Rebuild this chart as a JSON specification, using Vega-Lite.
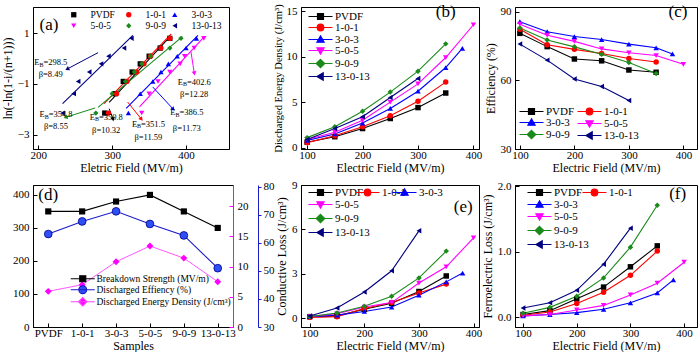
{
"$schema": "https://vega.github.io/schema/vega-lite/v6.json",
"padding": {"left": 0, "top": 2, "right": 0, "bottom": 0},
"columns": 3,
"spacing": {"row": 4, "column": -3},
"datasets": {
"weibull": [
{"s":"PVDF","E":290,"y":-2.14},{"s":"PVDF","E":304,"y":-1.38},{"s":"PVDF","E":315,"y":-0.9},{"s":"PVDF","E":327,"y":-0.53},{"s":"PVDF","E":338,"y":-0.21},{"s":"PVDF","E":350,"y":0.09},{"s":"PVDF","E":365,"y":0.41},{"s":"PVDF","E":378,"y":0.79},
{"s":"1-0-1","E":295,"y":-2.14},{"s":"1-0-1","E":306,"y":-1.38},{"s":"1-0-1","E":320,"y":-0.9},{"s":"1-0-1","E":333,"y":-0.53},{"s":"1-0-1","E":343,"y":-0.21},{"s":"1-0-1","E":352,"y":0.09},{"s":"1-0-1","E":366,"y":0.41},{"s":"1-0-1","E":378,"y":0.79},
{"s":"3-0-3","E":322,"y":-2.14},{"s":"3-0-3","E":338,"y":-1.38},{"s":"3-0-3","E":355,"y":-0.9},{"s":"3-0-3","E":366,"y":-0.53},{"s":"3-0-3","E":376,"y":-0.21},{"s":"3-0-3","E":388,"y":0.09},{"s":"3-0-3","E":400,"y":0.41},{"s":"3-0-3","E":414,"y":0.79},
{"s":"5-0-5","E":340,"y":-2.14},{"s":"5-0-5","E":350,"y":-1.38},{"s":"5-0-5","E":362,"y":-0.9},{"s":"5-0-5","E":378,"y":-0.53},{"s":"5-0-5","E":392,"y":-0.21},{"s":"5-0-5","E":398,"y":0.09},{"s":"5-0-5","E":411,"y":0.41},{"s":"5-0-5","E":424,"y":0.79},
{"s":"9-0-9","E":278,"y":-2.14},{"s":"9-0-9","E":300,"y":-1.38},{"s":"9-0-9","E":318,"y":-0.9},{"s":"9-0-9","E":330,"y":-0.53},{"s":"9-0-9","E":340,"y":-0.21},{"s":"9-0-9","E":352,"y":0.09},{"s":"9-0-9","E":378,"y":0.41},{"s":"9-0-9","E":393,"y":0.79},
{"s":"13-0-13","E":233,"y":-2.14},{"s":"13-0-13","E":248,"y":-1.38},{"s":"13-0-13","E":254,"y":-0.9},{"s":"13-0-13","E":269,"y":-0.53},{"s":"13-0-13","E":285,"y":-0.21},{"s":"13-0-13","E":295,"y":0.09},{"s":"13-0-13","E":316,"y":0.41},{"s":"13-0-13","E":326,"y":0.79}
],
"fits": [
{"s":"PVDF","x1":296,"y1":-1.72,"x2":378,"y2":0.85},
{"s":"1-0-1","x1":289,"y1":-1.77,"x2":380,"y2":0.97},
{"s":"9-0-9","x1":281,"y1":-1.92,"x2":395,"y2":0.86},
{"s":"3-0-3","x1":319,"y1":-1.96,"x2":416,"y2":0.91},
{"s":"5-0-5","x1":337,"y1":-1.9,"x2":425,"y2":0.87},
{"s":"13-0-13","x1":233,"y1":-1.77,"x2":328,"y2":0.91}
],
"arrows": [
{"s":"13-0-13","x1":281,"y1":0.23,"x2":240,"y2":-0.4},
{"s":"9-0-9","x1":277,"y1":-1.94,"x2":238,"y2":-2.3},
{"s":"PVDF","x1":296,"y1":-1.97,"x2":301,"y2":-2.36},
{"s":"1-0-1","x1":321,"y1":-1.71,"x2":339,"y2":-2.36},
{"s":"3-0-3","x1":355,"y1":-1.12,"x2":382,"y2":-1.97},
{"s":"5-0-5","x1":406.6,"y1":0.26,"x2":411,"y2":-0.56}
],
"notes": [
{"s":"13-0-13","x":217,"y":-0.14,"yb":-0.6,"eb":"=298.5","beta":"β=8.49"},
{"s":"9-0-9","x":224,"y":-2.19,"yb":-2.66,"eb":"=354.8","beta":"β=8.55"},
{"s":"PVDF","x":292,"y":-2.29,"yb":-2.82,"eb":"=350.8","beta":"β=10.32"},
{"s":"1-0-1","x":349,"y":-2.56,"yb":-3.08,"eb":"=351.5","beta":"β=11.59"},
{"s":"3-0-3","x":401,"y":-2.1,"yb":-2.71,"eb":"=386.5","beta":"β=11.73"},
{"s":"5-0-5","x":411,"y":-0.92,"yb":-1.38,"eb":"=402.6","beta":"β=12.28"}
],
"b": [
{"s":"PVDF","E":100,"v":0.6},{"s":"PVDF","E":150,"v":1.2},{"s":"PVDF","E":200,"v":2.1},{"s":"PVDF","E":250,"v":3.2},{"s":"PVDF","E":300,"v":4.4},{"s":"PVDF","E":350,"v":6.0},
{"s":"1-0-1","E":100,"v":0.55},{"s":"1-0-1","E":150,"v":1.3},{"s":"1-0-1","E":200,"v":2.3},{"s":"1-0-1","E":250,"v":3.5},{"s":"1-0-1","E":300,"v":5.1},{"s":"1-0-1","E":350,"v":7.2},
{"s":"3-0-3","E":100,"v":0.8},{"s":"3-0-3","E":150,"v":1.5},{"s":"3-0-3","E":200,"v":2.7},{"s":"3-0-3","E":250,"v":4.3},{"s":"3-0-3","E":300,"v":6.2},{"s":"3-0-3","E":350,"v":8.8},{"s":"3-0-3","E":380,"v":10.9},
{"s":"5-0-5","E":100,"v":0.9},{"s":"5-0-5","E":150,"v":1.7},{"s":"5-0-5","E":200,"v":3.0},{"s":"5-0-5","E":250,"v":5.0},{"s":"5-0-5","E":300,"v":7.0},{"s":"5-0-5","E":350,"v":9.9},{"s":"5-0-5","E":400,"v":13.5},
{"s":"9-0-9","E":100,"v":1.1},{"s":"9-0-9","E":150,"v":2.3},{"s":"9-0-9","E":200,"v":4.0},{"s":"9-0-9","E":250,"v":6.1},{"s":"9-0-9","E":300,"v":8.4},{"s":"9-0-9","E":350,"v":11.4},
{"s":"13-0-13","E":100,"v":0.9},{"s":"13-0-13","E":150,"v":2.1},{"s":"13-0-13","E":200,"v":3.4},{"s":"13-0-13","E":250,"v":5.5},{"s":"13-0-13","E":300,"v":7.6}
],
"c": [
{"s":"PVDF","E":100,"v":80.5},{"s":"PVDF","E":150,"v":74.7},{"s":"PVDF","E":200,"v":69.3},{"s":"PVDF","E":250,"v":68.5},{"s":"PVDF","E":300,"v":64.5},{"s":"PVDF","E":350,"v":63.5},
{"s":"1-0-1","E":100,"v":82.3},{"s":"1-0-1","E":150,"v":75.5},{"s":"1-0-1","E":200,"v":73.5},{"s":"1-0-1","E":250,"v":71.7},{"s":"1-0-1","E":300,"v":69.5},{"s":"1-0-1","E":350,"v":68},
{"s":"3-0-3","E":100,"v":85.6},{"s":"3-0-3","E":150,"v":81.2},{"s":"3-0-3","E":200,"v":79.1},{"s":"3-0-3","E":250,"v":77.8},{"s":"3-0-3","E":300,"v":75.8},{"s":"3-0-3","E":350,"v":74.2},{"s":"3-0-3","E":380,"v":71.5},
{"s":"5-0-5","E":100,"v":84.5},{"s":"5-0-5","E":150,"v":79.7},{"s":"5-0-5","E":200,"v":77},{"s":"5-0-5","E":250,"v":73.7},{"s":"5-0-5","E":300,"v":72},{"s":"5-0-5","E":350,"v":70.8},{"s":"5-0-5","E":400,"v":67},
{"s":"9-0-9","E":100,"v":82.8},{"s":"9-0-9","E":150,"v":77.6},{"s":"9-0-9","E":200,"v":74.6},{"s":"9-0-9","E":250,"v":71.4},{"s":"9-0-9","E":300,"v":67.8},{"s":"9-0-9","E":350,"v":63},
{"s":"13-0-13","E":100,"v":75.8},{"s":"13-0-13","E":150,"v":68.8},{"s":"13-0-13","E":200,"v":60.6},{"s":"13-0-13","E":250,"v":57.3},{"s":"13-0-13","E":300,"v":51.2}
],
"e": [
{"s":"PVDF","E":100,"v":0.1},{"s":"PVDF","E":150,"v":0.15},{"s":"PVDF","E":200,"v":0.6},{"s":"PVDF","E":250,"v":1.0},{"s":"PVDF","E":300,"v":1.8},{"s":"PVDF","E":350,"v":2.85},
{"s":"1-0-1","E":100,"v":0.05},{"s":"1-0-1","E":150,"v":0.1},{"s":"1-0-1","E":200,"v":0.65},{"s":"1-0-1","E":250,"v":1.05},{"s":"1-0-1","E":300,"v":1.7},{"s":"1-0-1","E":350,"v":2.3},
{"s":"3-0-3","E":100,"v":0.1},{"s":"3-0-3","E":150,"v":0.2},{"s":"3-0-3","E":200,"v":0.45},{"s":"3-0-3","E":250,"v":0.75},{"s":"3-0-3","E":300,"v":1.55},{"s":"3-0-3","E":350,"v":2.45},{"s":"3-0-3","E":380,"v":3.05},
{"s":"5-0-5","E":100,"v":0.1},{"s":"5-0-5","E":150,"v":0.3},{"s":"5-0-5","E":200,"v":0.75},{"s":"5-0-5","E":250,"v":1.05},{"s":"5-0-5","E":300,"v":2.37},{"s":"5-0-5","E":350,"v":3.47},{"s":"5-0-5","E":400,"v":5.42},
{"s":"9-0-9","E":100,"v":0.1},{"s":"9-0-9","E":150,"v":0.35},{"s":"9-0-9","E":200,"v":0.8},{"s":"9-0-9","E":250,"v":1.48},{"s":"9-0-9","E":300,"v":2.72},{"s":"9-0-9","E":350,"v":4.53},
{"s":"13-0-13","E":100,"v":0.15},{"s":"13-0-13","E":150,"v":0.68},{"s":"13-0-13","E":200,"v":1.77},{"s":"13-0-13","E":250,"v":3.2},{"s":"13-0-13","E":300,"v":5.9}
],
"f": [
{"s":"PVDF","E":100,"v":0.04},{"s":"PVDF","E":150,"v":0.1},{"s":"PVDF","E":200,"v":0.28},{"s":"PVDF","E":250,"v":0.46},{"s":"PVDF","E":300,"v":0.77},{"s":"PVDF","E":350,"v":1.09},
{"s":"1-0-1","E":100,"v":0.03},{"s":"1-0-1","E":150,"v":0.08},{"s":"1-0-1","E":200,"v":0.21},{"s":"1-0-1","E":250,"v":0.38},{"s":"1-0-1","E":300,"v":0.64},{"s":"1-0-1","E":350,"v":1.01},
{"s":"3-0-3","E":100,"v":0.02},{"s":"3-0-3","E":150,"v":0.04},{"s":"3-0-3","E":200,"v":0.07},{"s":"3-0-3","E":250,"v":0.12},{"s":"3-0-3","E":300,"v":0.22},{"s":"3-0-3","E":350,"v":0.37},{"s":"3-0-3","E":380,"v":0.57},
{"s":"5-0-5","E":100,"v":0.02},{"s":"5-0-5","E":150,"v":0.04},{"s":"5-0-5","E":200,"v":0.11},{"s":"5-0-5","E":250,"v":0.18},{"s":"5-0-5","E":300,"v":0.34},{"s":"5-0-5","E":350,"v":0.52},{"s":"5-0-5","E":400,"v":0.84},
{"s":"9-0-9","E":100,"v":0.06},{"s":"9-0-9","E":150,"v":0.15},{"s":"9-0-9","E":200,"v":0.32},{"s":"9-0-9","E":250,"v":0.6},{"s":"9-0-9","E":300,"v":1.07},{"s":"9-0-9","E":350,"v":1.71},
{"s":"13-0-13","E":100,"v":0.14},{"s":"13-0-13","E":150,"v":0.22},{"s":"13-0-13","E":200,"v":0.41},{"s":"13-0-13","E":250,"v":0.81},{"s":"13-0-13","E":300,"v":1.36}
],
"d": [
{"sample":"PVDF","i":1,"bd":350,"eff":63.2,"ed":5.9},
{"sample":"1-0-1","i":2,"bd":350,"eff":67.7,"ed":7.0},
{"sample":"3-0-3","i":3,"bd":380,"eff":71.3,"ed":10.8},
{"sample":"5-0-5","i":4,"bd":400,"eff":66.8,"ed":13.4},
{"sample":"9-0-9","i":5,"bd":350,"eff":62.7,"ed":11.4},
{"sample":"13-0-13","i":6,"bd":300,"eff":51.0,"ed":7.5}
]
},
"concat": [
{
"width": 196, "height": 142,
"layer": [
{"data": {"name": "fits"}, "mark": {"type": "rule", "strokeWidth": 1.1},
 "encoding": {
  "x": {"field": "x1", "type": "quantitative", "scale": {"domain": [193, 458], "nice": false, "zero": false}, "axis": {"values": [200,250,300,350,400,450], "title": "Eletric Field (MV/m)"}},
  "y": {"field": "y1", "type": "quantitative", "scale": {"domain": [-3.55, 2.02], "nice": false, "zero": false}, "axis": {"values": [-3,-2,-1,0,1], "title": "ln(-ln(1-i/(n+1)))", "labelOverlap": false, "labelSeparation": 0, "labelBound": false}},
  "x2": {"field": "x2"}, "y2": {"field": "y2"},
  "color": {"field": "s", "type": "nominal", "scale": {"domain": ["PVDF","1-0-1","3-0-3","5-0-5","9-0-9","13-0-13"], "range": ["#000000","#ff0000","#0000ff","#ff00ff","#1a8a1a","#000080"]}, "legend": null}
 }},
{"data": {"name": "arrows"}, "mark": {"type": "rule", "strokeWidth": 1},
 "encoding": {
  "x": {"field": "x1", "type": "quantitative"}, "y": {"field": "y1", "type": "quantitative"},
  "x2": {"field": "x2"}, "y2": {"field": "y2"},
  "color": {"field": "s", "type": "nominal", "scale": {"domain": ["PVDF","1-0-1","3-0-3","5-0-5","9-0-9","13-0-13"], "range": ["#000000","#ff0000","#0000ff","#ff00ff","#1a8a1a","#000080"]}, "legend": null}
 }},
{"data": {"name": "arrows"}, "mark": {"type": "point", "filled": true, "opacity": 1, "shape": "triangle", "size": 22},
 "encoding": {
  "x": {"field": "x2", "type": "quantitative"}, "y": {"field": "y2", "type": "quantitative"},
  "color": {"field": "s", "type": "nominal", "scale": {"domain": ["PVDF","1-0-1","3-0-3","5-0-5","9-0-9","13-0-13"], "range": ["#000000","#ff0000","#0000ff","#ff00ff","#1a8a1a","#000080"]}, "legend": null},
  "angle": {"field": "s", "type": "nominal", "scale": {"type": "ordinal", "domain": ["PVDF","1-0-1","3-0-3","5-0-5","9-0-9","13-0-13"], "range": [168,141,137,171,253,242]}, "legend": null}
 }},
{"data": {"name": "weibull"}, "mark": {"type": "point", "filled": true, "opacity": 1, "size": 28},
 "encoding": {
  "x": {"field": "E", "type": "quantitative"}, "y": {"field": "y", "type": "quantitative"},
  "color": {"field": "s", "type": "nominal", "scale": {"domain": ["PVDF","1-0-1","3-0-3","5-0-5","9-0-9","13-0-13"], "range": ["#000000","#ff0000","#0000ff","#ff00ff","#1a8a1a","#000080"]}, "legend": null},
  "shape": {"field": "s", "type": "nominal", "scale": {"domain": ["PVDF","1-0-1","3-0-3","5-0-5","9-0-9","13-0-13"], "range": ["square","circle","triangle-up","triangle-down","diamond","triangle-left"]}, "legend": null}
 }},
{"data": {"name": "weibull"}, "transform": [{"filter": "false"}], "mark": {"type": "point", "filled": true, "opacity": 1},
 "encoding": {
  "color": {"field": "s", "type": "nominal", "scale": {"domain": ["PVDF","5-0-5"], "range": ["#000000","#ff00ff"]}, "legend": {"orient": "none", "legendX": 36, "legendY": 3, "title": null, "symbolSize": 28, "labelFontSize": 9.5, "labelOffset": 12, "rowPadding": 0, "symbolStrokeWidth": 0}},
  "shape": {"field": "s", "type": "nominal", "scale": {"domain": ["PVDF","5-0-5"], "range": ["square","triangle-down"]}, "legend": {"orient": "none", "legendX": 36, "legendY": 3, "title": null, "symbolSize": 28, "labelFontSize": 9.5, "labelOffset": 12, "rowPadding": 0, "symbolStrokeWidth": 0}}
 }},
{"data": {"name": "weibull"}, "transform": [{"filter": "false"}], "mark": {"type": "point", "filled": true, "opacity": 1},
 "encoding": {
  "color": {"field": "s", "type": "nominal", "scale": {"domain": ["1-0-1","9-0-9"], "range": ["#ff0000","#1a8a1a"]}, "legend": {"orient": "none", "legendX": 91, "legendY": 3, "title": null, "symbolSize": 28, "labelFontSize": 9.5, "labelOffset": 12, "rowPadding": 0, "symbolStrokeWidth": 0}},
  "shape": {"field": "s", "type": "nominal", "scale": {"domain": ["1-0-1","9-0-9"], "range": ["circle","diamond"]}, "legend": {"orient": "none", "legendX": 91, "legendY": 3, "title": null, "symbolSize": 28, "labelFontSize": 9.5, "labelOffset": 12, "rowPadding": 0, "symbolStrokeWidth": 0}}
 }},
{"data": {"name": "weibull"}, "transform": [{"filter": "false"}], "mark": {"type": "point", "filled": true, "opacity": 1},
 "encoding": {
  "color": {"field": "s", "type": "nominal", "scale": {"domain": ["3-0-3","13-0-13"], "range": ["#0000ff","#000080"]}, "legend": {"orient": "none", "legendX": 137, "legendY": 3, "title": null, "symbolSize": 28, "labelFontSize": 9.5, "labelOffset": 12, "rowPadding": 0, "symbolStrokeWidth": 0}},
  "shape": {"field": "s", "type": "nominal", "scale": {"domain": ["3-0-3","13-0-13"], "range": ["triangle-up","triangle-left"]}, "legend": {"orient": "none", "legendX": 137, "legendY": 3, "title": null, "symbolSize": 28, "labelFontSize": 9.5, "labelOffset": 12, "rowPadding": 0, "symbolStrokeWidth": 0}}
 }},
{"data": {"name": "notes"}, "mark": {"type": "text", "align": "left", "dx": -16.5, "fontSize": 8.5, "font": "Liberation Serif"},
 "encoding": {"x": {"field": "x", "type": "quantitative"}, "y": {"field": "y", "type": "quantitative"}, "text": {"value": "E"}}},
{"data": {"name": "notes"}, "mark": {"type": "text", "align": "left", "dx": -11.3, "dy": 2.5, "fontSize": 6, "font": "Liberation Serif"},
 "encoding": {"x": {"field": "x", "type": "quantitative"}, "y": {"field": "y", "type": "quantitative"}, "text": {"value": "B"}}},
{"data": {"name": "notes"}, "mark": {"type": "text", "align": "left", "dx": -7.3, "fontSize": 8.5, "font": "Liberation Serif"},
 "encoding": {"x": {"field": "x", "type": "quantitative"}, "y": {"field": "y", "type": "quantitative"}, "text": {"field": "eb"}}},
{"data": {"name": "notes"}, "mark": {"type": "text", "align": "center", "fontSize": 8.5, "font": "Liberation Serif"},
 "encoding": {"x": {"field": "x", "type": "quantitative"}, "y": {"field": "yb", "type": "quantitative"}, "text": {"field": "beta"}}},
{"data": {"values": [{"x": 214.6, "y": 1.31, "t": "(a)"}]}, "mark": {"type": "text", "fontSize": 17, "font": "Liberation Serif"},
 "encoding": {"x": {"field": "x", "type": "quantitative"}, "y": {"field": "y", "type": "quantitative"}, "text": {"field": "t"}}}
],
"resolve": {"scale": {"color": "independent", "shape": "independent"}, "legend": {"color": "independent", "shape": "independent"}}
},
{
"width": 178, "height": 142,
"data": {"name": "b"},
"layer": [
{"mark": {"type": "line", "strokeWidth": 1.1},
 "encoding": {
  "x": {"field": "E", "type": "quantitative", "scale": {"domain": [89, 410], "nice": false, "zero": false}, "axis": {"values": [100,200,300,400], "title": "Electric Field (MV/m)"}},
  "y": {"field": "v", "type": "quantitative", "scale": {"domain": [-0.15, 15.45], "nice": false, "zero": false}, "axis": {"values": [0,5,10,15], "title": "Discharged Energy Density (J/cm³)", "titleFontSize": 10.5, "labelOverlap": false}},
  "color": {"field": "s", "type": "nominal", "scale": {"domain": ["PVDF","1-0-1","3-0-3","5-0-5","9-0-9","13-0-13"], "range": ["#000000","#ff0000","#0000ff","#ff00ff","#1a8a1a","#000080"]}, "legend": null}
 }},
{"mark": {"type": "point", "filled": true, "opacity": 1, "size": 30},
 "encoding": {
  "x": {"field": "E", "type": "quantitative"}, "y": {"field": "v", "type": "quantitative"},
  "color": {"field": "s", "type": "nominal", "scale": {"domain": ["PVDF","1-0-1","3-0-3","5-0-5","9-0-9","13-0-13"], "range": ["#000000","#ff0000","#0000ff","#ff00ff","#1a8a1a","#000080"]}, "legend": null},
  "shape": {"field": "s", "type": "nominal", "scale": {"domain": ["PVDF","1-0-1","3-0-3","5-0-5","9-0-9","13-0-13"], "range": ["square","circle","triangle-up","triangle-down","diamond","triangle-left"]}, "legend": null}
 }},
{"transform": [{"filter": "false"}], "mark": {"type": "point", "filled": true, "opacity": 1},
 "encoding": {
  "color": {"field": "s", "type": "nominal", "scale": {"domain": ["PVDF","1-0-1","3-0-3","5-0-5","9-0-9","13-0-13"], "range": ["#000000","#ff0000","#0000ff","#ff00ff","#1a8a1a","#000080"]}, "legend": {"orient": "none", "legendX": 14, "legendY": 4, "title": null, "symbolSize": 36, "labelOffset": 9, "rowPadding": -1, "labelFontSize": 11, "symbolStrokeWidth": 1.2}},
  "stroke": {"field": "s", "type": "nominal", "scale": {"domain": ["PVDF","1-0-1","3-0-3","5-0-5","9-0-9","13-0-13"], "range": ["#000000","#ff0000","#0000ff","#ff00ff","#1a8a1a","#000080"]}, "legend": {"orient": "none", "legendX": 14, "legendY": 4, "title": null, "symbolSize": 36, "labelOffset": 9, "rowPadding": -1, "labelFontSize": 11, "symbolStrokeWidth": 1.2}},
  "shape": {"field": "s", "type": "nominal", "scale": {"domain": ["PVDF","1-0-1","3-0-3","5-0-5","9-0-9","13-0-13"], "range": ["M-4,0H4M-1,-1H1V1H-1Z","M-4,0H4M-1.1,0A1.1,1.1,0,1,0,1.1,0A1.1,1.1,0,1,0,-1.1,0Z","M-4,0H4M0,-1.2L1.2,0.9H-1.2Z","M-4,0H4M0,1.2L1.2,-0.9H-1.2Z","M-4,0H4M0,-1.4L1.4,0L0,1.4L-1.4,0Z","M-4,0H4M-1.2,0L0.9,-1.2V1.2Z"]}, "legend": {"orient": "none", "legendX": 14, "legendY": 4, "title": null, "symbolSize": 36, "labelOffset": 9, "rowPadding": -1, "labelFontSize": 11, "symbolStrokeWidth": 1.2}}
 }},
{"data": {"values": [{"x": 350, "y": 14.9, "t": "(b)"}]}, "mark": {"type": "text", "fontSize": 17, "font": "Liberation Serif"},
 "encoding": {"x": {"field": "x", "type": "quantitative"}, "y": {"field": "y", "type": "quantitative"}, "text": {"field": "t"}}}
],
"resolve": {"scale": {"color": "independent", "shape": "independent", "stroke": "independent"}, "legend": {"color": "independent", "shape": "independent", "stroke": "independent"}}
},
{
"width": 182, "height": 142,
"data": {"name": "c"},
"layer": [
{"mark": {"type": "line", "strokeWidth": 1.1},
 "encoding": {
  "x": {"field": "E", "type": "quantitative", "scale": {"domain": [91, 425], "nice": false, "zero": false}, "axis": {"values": [100,200,300,400], "title": "Electric Field (MV/m)"}},
  "y": {"field": "v", "type": "quantitative", "scale": {"domain": [30, 92], "nice": false, "zero": false}, "axis": {"values": [30,45,60,75,90], "title": "Efficiency (%)", "labelOverlap": false, "labelSeparation": 0, "labelBound": false, "labelLimit": 200}},
  "color": {"field": "s", "type": "nominal", "scale": {"domain": ["PVDF","1-0-1","3-0-3","5-0-5","9-0-9","13-0-13"], "range": ["#000000","#ff0000","#0000ff","#ff00ff","#1a8a1a","#000080"]}, "legend": null}
 }},
{"mark": {"type": "point", "filled": true, "opacity": 1, "size": 30},
 "encoding": {
  "x": {"field": "E", "type": "quantitative"}, "y": {"field": "v", "type": "quantitative"},
  "color": {"field": "s", "type": "nominal", "scale": {"domain": ["PVDF","1-0-1","3-0-3","5-0-5","9-0-9","13-0-13"], "range": ["#000000","#ff0000","#0000ff","#ff00ff","#1a8a1a","#000080"]}, "legend": null},
  "shape": {"field": "s", "type": "nominal", "scale": {"domain": ["PVDF","1-0-1","3-0-3","5-0-5","9-0-9","13-0-13"], "range": ["square","circle","triangle-up","triangle-down","diamond","triangle-left"]}, "legend": null}
 }},
{"transform": [{"filter": "false"}], "mark": {"type": "point", "filled": true, "opacity": 1},
 "encoding": {
  "color": {"field": "s", "type": "nominal", "scale": {"domain": ["PVDF","3-0-3","9-0-9"], "range": ["#000000","#0000ff","#1a8a1a"]}, "legend": {"orient": "none", "legendX": 11, "legendY": 99, "title": null, "symbolSize": 36, "labelOffset": 9, "rowPadding": -1, "labelFontSize": 11, "symbolStrokeWidth": 1.2}},
  "stroke": {"field": "s", "type": "nominal", "scale": {"domain": ["PVDF","3-0-3","9-0-9"], "range": ["#000000","#0000ff","#1a8a1a"]}, "legend": {"orient": "none", "legendX": 11, "legendY": 99, "title": null, "symbolSize": 36, "labelOffset": 9, "rowPadding": -1, "labelFontSize": 11, "symbolStrokeWidth": 1.2}},
  "shape": {"field": "s", "type": "nominal", "scale": {"domain": ["PVDF","3-0-3","9-0-9"], "range": ["M-4,0H4M-1,-1H1V1H-1Z","M-4,0H4M0,-1.2L1.2,0.9H-1.2Z","M-4,0H4M0,-1.4L1.4,0L0,1.4L-1.4,0Z"]}, "legend": {"orient": "none", "legendX": 11, "legendY": 99, "title": null, "symbolSize": 36, "labelOffset": 9, "rowPadding": -1, "labelFontSize": 11, "symbolStrokeWidth": 1.2}}
 }},
{"transform": [{"filter": "false"}], "mark": {"type": "point", "filled": true, "opacity": 1},
 "encoding": {
  "color": {"field": "s", "type": "nominal", "scale": {"domain": ["1-0-1","5-0-5","13-0-13"], "range": ["#ff0000","#ff00ff","#000080"]}, "legend": {"orient": "none", "legendX": 69, "legendY": 99, "title": null, "symbolSize": 36, "labelOffset": 9, "rowPadding": -1, "labelFontSize": 11, "symbolStrokeWidth": 1.2}},
  "stroke": {"field": "s", "type": "nominal", "scale": {"domain": ["1-0-1","5-0-5","13-0-13"], "range": ["#ff0000","#ff00ff","#000080"]}, "legend": {"orient": "none", "legendX": 69, "legendY": 99, "title": null, "symbolSize": 36, "labelOffset": 9, "rowPadding": -1, "labelFontSize": 11, "symbolStrokeWidth": 1.2}},
  "shape": {"field": "s", "type": "nominal", "scale": {"domain": ["1-0-1","5-0-5","13-0-13"], "range": ["M-4,0H4M-1.1,0A1.1,1.1,0,1,0,1.1,0A1.1,1.1,0,1,0,-1.1,0Z","M-4,0H4M0,1.2L1.2,-0.9H-1.2Z","M-4,0H4M-1.2,0L0.9,-1.2V1.2Z"]}, "legend": {"orient": "none", "legendX": 69, "legendY": 99, "title": null, "symbolSize": 36, "labelOffset": 9, "rowPadding": -1, "labelFontSize": 11, "symbolStrokeWidth": 1.2}}
 }},
{"data": {"values": [{"x": 390, "y": 89.8, "t": "(c)"}]}, "mark": {"type": "text", "fontSize": 17, "font": "Liberation Serif"},
 "encoding": {"x": {"field": "x", "type": "quantitative"}, "y": {"field": "y", "type": "quantitative"}, "text": {"field": "t"}}}
],
"resolve": {"scale": {"color": "independent", "shape": "independent", "stroke": "independent"}, "legend": {"color": "independent", "shape": "independent", "stroke": "independent"}}
},
{
"width": 200, "height": 142,
"data": {"name": "d"},
"layer": [
{"mark": {"type": "line", "color": "#000000", "strokeWidth": 1.2, "point": {"filled": true, "shape": "square", "size": 38, "color": "#000000", "opacity": 1}},
 "encoding": {
  "x": {"field": "sample", "type": "nominal", "sort": null, "scale": {"type": "point", "domain": ["PVDF","1-0-1","3-0-3","5-0-5","9-0-9","13-0-13"], "padding": 0.45}, "axis": {"title": "Samples", "labelAngle": 0}},
  "y": {"field": "bd", "type": "quantitative", "scale": {"domain": [0, 430], "nice": false, "zero": false}, "axis": {"orient": "left", "values": [0,100,200,300,400], "title": null, "labelOverlap": false}},
  "order": {"field": "i", "type": "quantitative"}
 }},
{"mark": {"type": "line", "color": "#1a1acc", "strokeWidth": 1.1, "point": {"filled": true, "shape": "circle", "size": 60, "color": "#2f4ff5", "stroke": "#00008b", "strokeWidth": 0.8, "opacity": 1}},
 "encoding": {
  "x": {"field": "sample", "type": "nominal", "sort": null},
  "y": {"field": "eff", "type": "quantitative", "scale": {"domain": [30, 80.7], "nice": false, "zero": false}, "axis": {"orient": "right", "offset": 25, "values": [30,40,50,60,70,80], "title": null, "domainColor": "#1a1acc", "tickColor": "#1a1acc", "tickSize": 3, "labelPadding": 2, "labelOverlap": false}},
  "order": {"field": "i", "type": "quantitative"}
 }},
{"mark": {"type": "line", "color": "#ff44ff", "strokeWidth": 0.9, "point": {"filled": true, "shape": "diamond", "size": 48, "color": "#ff00ff", "opacity": 1}},
 "encoding": {
  "x": {"field": "sample", "type": "nominal", "sort": null},
  "y": {"field": "ed", "type": "quantitative", "scale": {"domain": [0, 23.5], "nice": false, "zero": false}, "axis": {"orient": "right", "values": [0,5,10,15,20], "title": null, "domainColor": "#ff00ff", "tickColor": "#ff00ff", "labelOverlap": false}},
  "order": {"field": "i", "type": "quantitative"}
 }},
{"transform": [{"filter": "false"}], "mark": {"type": "point", "filled": true, "opacity": 1},
 "encoding": {
  "color": {"field": "sample", "type": "nominal", "scale": {"domain": ["Breakdown Strength (MV/m)","Discharged Effiency (%)","Discharged Energy Density (J/cm³)"], "range": ["#000000","#2f4ff5","#ff00ff"]}, "legend": {"orient": "none", "legendX": 45, "legendY": 89, "title": null, "symbolSize": 36, "labelOffset": 9, "rowPadding": -2, "labelFontSize": 9.5, "symbolStrokeWidth": 1.2}},
  "stroke": {"field": "sample", "type": "nominal", "scale": {"domain": ["Breakdown Strength (MV/m)","Discharged Effiency (%)","Discharged Energy Density (J/cm³)"], "range": ["#000000","#1a1acc","#ff44ff"]}, "legend": {"orient": "none", "legendX": 45, "legendY": 89, "title": null, "symbolSize": 36, "labelOffset": 9, "rowPadding": -2, "labelFontSize": 9.5, "symbolStrokeWidth": 1.2}},
  "shape": {"field": "sample", "type": "nominal", "scale": {"domain": ["Breakdown Strength (MV/m)","Discharged Effiency (%)","Discharged Energy Density (J/cm³)"], "range": ["M-4,0H4M-1,-1H1V1H-1Z","M-4,0H4M-1.3,0A1.3,1.3,0,1,0,1.3,0A1.3,1.3,0,1,0,-1.3,0Z","M-4,0H4M0,-1.4L1.4,0L0,1.4L-1.4,0Z"]}, "legend": {"orient": "none", "legendX": 45, "legendY": 89, "title": null, "symbolSize": 36, "labelOffset": 9, "rowPadding": -2, "labelFontSize": 9.5, "symbolStrokeWidth": 1.2}}
 }},
{"data": {"values": [{"x": "PVDF", "y": 400, "t": "(d)"}]}, "mark": {"type": "text", "fontSize": 17, "font": "Liberation Serif"},
 "encoding": {"x": {"field": "x", "type": "nominal", "sort": null}, "y": {"field": "y", "type": "quantitative", "scale": {"domain": [0, 430], "nice": false}, "axis": null}, "text": {"field": "t"}}}
],
"resolve": {"scale": {"y": "independent", "color": "independent", "shape": "independent", "stroke": "independent"}, "axis": {"y": "independent"}, "legend": {"color": "independent", "shape": "independent", "stroke": "independent"}}
},
{
"width": 178, "height": 142,
"data": {"name": "e"},
"layer": [
{"mark": {"type": "line", "strokeWidth": 1.1},
 "encoding": {
  "x": {"field": "E", "type": "quantitative", "scale": {"domain": [84, 410], "nice": false, "zero": false}, "axis": {"values": [100,200,300,400], "title": "Electric Field (MV/m)"}},
  "y": {"field": "v", "type": "quantitative", "scale": {"domain": [-0.6, 9], "nice": false, "zero": false}, "axis": {"values": [0,3,6,9], "title": "Conductive Loss (J/cm³)", "labelOverlap": false}},
  "color": {"field": "s", "type": "nominal", "scale": {"domain": ["PVDF","1-0-1","3-0-3","5-0-5","9-0-9","13-0-13"], "range": ["#000000","#ff0000","#0000ff","#ff00ff","#1a8a1a","#000080"]}, "legend": null}
 }},
{"mark": {"type": "point", "filled": true, "opacity": 1, "size": 30},
 "encoding": {
  "x": {"field": "E", "type": "quantitative"}, "y": {"field": "v", "type": "quantitative"},
  "color": {"field": "s", "type": "nominal", "scale": {"domain": ["PVDF","1-0-1","3-0-3","5-0-5","9-0-9","13-0-13"], "range": ["#000000","#ff0000","#0000ff","#ff00ff","#1a8a1a","#000080"]}, "legend": null},
  "shape": {"field": "s", "type": "nominal", "scale": {"domain": ["PVDF","1-0-1","3-0-3","5-0-5","9-0-9","13-0-13"], "range": ["square","circle","triangle-up","triangle-down","diamond","triangle-left"]}, "legend": null}
 }},
{"transform": [{"filter": "false"}], "mark": {"type": "point", "filled": true, "opacity": 1},
 "encoding": {
  "color": {"field": "s", "type": "nominal", "scale": {"domain": ["PVDF","5-0-5","9-0-9","13-0-13"], "range": ["#000000","#ff00ff","#1a8a1a","#000080"]}, "legend": {"orient": "none", "legendX": 14, "legendY": 2, "title": null, "symbolSize": 36, "labelOffset": 9, "rowPadding": 0, "labelFontSize": 11, "symbolStrokeWidth": 1.2}},
  "stroke": {"field": "s", "type": "nominal", "scale": {"domain": ["PVDF","5-0-5","9-0-9","13-0-13"], "range": ["#000000","#ff00ff","#1a8a1a","#000080"]}, "legend": {"orient": "none", "legendX": 14, "legendY": 2, "title": null, "symbolSize": 36, "labelOffset": 9, "rowPadding": 0, "labelFontSize": 11, "symbolStrokeWidth": 1.2}},
  "shape": {"field": "s", "type": "nominal", "scale": {"domain": ["PVDF","5-0-5","9-0-9","13-0-13"], "range": ["M-4,0H4M-1,-1H1V1H-1Z","M-4,0H4M0,1.2L1.2,-0.9H-1.2Z","M-4,0H4M0,-1.4L1.4,0L0,1.4L-1.4,0Z","M-4,0H4M-1.2,0L0.9,-1.2V1.2Z"]}, "legend": {"orient": "none", "legendX": 14, "legendY": 2, "title": null, "symbolSize": 36, "labelOffset": 9, "rowPadding": 0, "labelFontSize": 11, "symbolStrokeWidth": 1.2}}
 }},
{"transform": [{"filter": "false"}], "mark": {"type": "point", "filled": true, "opacity": 1},
 "encoding": {
  "color": {"field": "s", "type": "nominal", "scale": {"domain": ["1-0-1"], "range": ["#ff0000"]}, "legend": {"orient": "none", "legendX": 61, "legendY": 2, "title": null, "symbolSize": 36, "labelOffset": 9, "labelFontSize": 11, "symbolStrokeWidth": 1.2}},
  "stroke": {"field": "s", "type": "nominal", "scale": {"domain": ["1-0-1"], "range": ["#ff0000"]}, "legend": {"orient": "none", "legendX": 61, "legendY": 2, "title": null, "symbolSize": 36, "labelOffset": 9, "labelFontSize": 11, "symbolStrokeWidth": 1.2}},
  "shape": {"field": "s", "type": "nominal", "scale": {"domain": ["1-0-1"], "range": ["M-4,0H4M-1.1,0A1.1,1.1,0,1,0,1.1,0A1.1,1.1,0,1,0,-1.1,0Z"]}, "legend": {"orient": "none", "legendX": 61, "legendY": 2, "title": null, "symbolSize": 36, "labelOffset": 9, "labelFontSize": 11, "symbolStrokeWidth": 1.2}}
 }},
{"transform": [{"filter": "false"}], "mark": {"type": "point", "filled": true, "opacity": 1},
 "encoding": {
  "color": {"field": "s", "type": "nominal", "scale": {"domain": ["3-0-3"], "range": ["#0000ff"]}, "legend": {"orient": "none", "legendX": 98, "legendY": 2, "title": null, "symbolSize": 36, "labelOffset": 9, "labelFontSize": 11, "symbolStrokeWidth": 1.2}},
  "stroke": {"field": "s", "type": "nominal", "scale": {"domain": ["3-0-3"], "range": ["#0000ff"]}, "legend": {"orient": "none", "legendX": 98, "legendY": 2, "title": null, "symbolSize": 36, "labelOffset": 9, "labelFontSize": 11, "symbolStrokeWidth": 1.2}},
  "shape": {"field": "s", "type": "nominal", "scale": {"domain": ["3-0-3"], "range": ["M-4,0H4M0,-1.2L1.2,0.9H-1.2Z"]}, "legend": {"orient": "none", "legendX": 98, "legendY": 2, "title": null, "symbolSize": 36, "labelOffset": 9, "labelFontSize": 11, "symbolStrokeWidth": 1.2}}
 }},
{"data": {"values": [{"x": 381, "y": 7.5, "t": "(e)"}]}, "mark": {"type": "text", "fontSize": 17, "font": "Liberation Serif"},
 "encoding": {"x": {"field": "x", "type": "quantitative"}, "y": {"field": "y", "type": "quantitative"}, "text": {"field": "t"}}}
],
"resolve": {"scale": {"color": "independent", "shape": "independent", "stroke": "independent"}, "legend": {"color": "independent", "shape": "independent", "stroke": "independent"}}
},
{
"width": 182, "height": 142,
"data": {"name": "f"},
"layer": [
{"mark": {"type": "line", "strokeWidth": 1.1},
 "encoding": {
  "x": {"field": "E", "type": "quantitative", "scale": {"domain": [85, 424], "nice": false, "zero": false}, "axis": {"values": [100,200,300,400], "title": "Electric Field (MV/m)"}},
  "y": {"field": "v", "type": "quantitative", "scale": {"domain": [-0.15, 2.02], "nice": false, "zero": false}, "axis": {"values": [0,0.5,1,1.5,2], "format": ".1f", "title": "Ferroelectric Loss (J/cm³)", "labelOverlap": false, "labelSeparation": 0, "labelBound": false, "labelLimit": 200}},
  "color": {"field": "s", "type": "nominal", "scale": {"domain": ["PVDF","1-0-1","3-0-3","5-0-5","9-0-9","13-0-13"], "range": ["#000000","#ff0000","#0000ff","#ff00ff","#1a8a1a","#000080"]}, "legend": null}
 }},
{"mark": {"type": "point", "filled": true, "opacity": 1, "size": 30},
 "encoding": {
  "x": {"field": "E", "type": "quantitative"}, "y": {"field": "v", "type": "quantitative"},
  "color": {"field": "s", "type": "nominal", "scale": {"domain": ["PVDF","1-0-1","3-0-3","5-0-5","9-0-9","13-0-13"], "range": ["#000000","#ff0000","#0000ff","#ff00ff","#1a8a1a","#000080"]}, "legend": null},
  "shape": {"field": "s", "type": "nominal", "scale": {"domain": ["PVDF","1-0-1","3-0-3","5-0-5","9-0-9","13-0-13"], "range": ["square","circle","triangle-up","triangle-down","diamond","triangle-left"]}, "legend": null}
 }},
{"transform": [{"filter": "false"}], "mark": {"type": "point", "filled": true, "opacity": 1},
 "encoding": {
  "color": {"field": "s", "type": "nominal", "scale": {"domain": ["PVDF","3-0-3","5-0-5","9-0-9","13-0-13"], "range": ["#000000","#0000ff","#ff00ff","#1a8a1a","#000080"]}, "legend": {"orient": "none", "legendX": 19, "legendY": 2, "title": null, "symbolSize": 36, "labelOffset": 9, "rowPadding": 0, "labelFontSize": 11, "symbolStrokeWidth": 1.2}},
  "stroke": {"field": "s", "type": "nominal", "scale": {"domain": ["PVDF","3-0-3","5-0-5","9-0-9","13-0-13"], "range": ["#000000","#0000ff","#ff00ff","#1a8a1a","#000080"]}, "legend": {"orient": "none", "legendX": 19, "legendY": 2, "title": null, "symbolSize": 36, "labelOffset": 9, "rowPadding": 0, "labelFontSize": 11, "symbolStrokeWidth": 1.2}},
  "shape": {"field": "s", "type": "nominal", "scale": {"domain": ["PVDF","3-0-3","5-0-5","9-0-9","13-0-13"], "range": ["M-4,0H4M-1,-1H1V1H-1Z","M-4,0H4M0,-1.2L1.2,0.9H-1.2Z","M-4,0H4M0,1.2L1.2,-0.9H-1.2Z","M-4,0H4M0,-1.4L1.4,0L0,1.4L-1.4,0Z","M-4,0H4M-1.2,0L0.9,-1.2V1.2Z"]}, "legend": {"orient": "none", "legendX": 19, "legendY": 2, "title": null, "symbolSize": 36, "labelOffset": 9, "rowPadding": 0, "labelFontSize": 11, "symbolStrokeWidth": 1.2}}
 }},
{"transform": [{"filter": "false"}], "mark": {"type": "point", "filled": true, "opacity": 1},
 "encoding": {
  "color": {"field": "s", "type": "nominal", "scale": {"domain": ["1-0-1"], "range": ["#ff0000"]}, "legend": {"orient": "none", "legendX": 74, "legendY": 2, "title": null, "symbolSize": 36, "labelOffset": 9, "labelFontSize": 11, "symbolStrokeWidth": 1.2}},
  "stroke": {"field": "s", "type": "nominal", "scale": {"domain": ["1-0-1"], "range": ["#ff0000"]}, "legend": {"orient": "none", "legendX": 74, "legendY": 2, "title": null, "symbolSize": 36, "labelOffset": 9, "labelFontSize": 11, "symbolStrokeWidth": 1.2}},
  "shape": {"field": "s", "type": "nominal", "scale": {"domain": ["1-0-1"], "range": ["M-4,0H4M-1.1,0A1.1,1.1,0,1,0,1.1,0A1.1,1.1,0,1,0,-1.1,0Z"]}, "legend": {"orient": "none", "legendX": 74, "legendY": 2, "title": null, "symbolSize": 36, "labelOffset": 9, "labelFontSize": 11, "symbolStrokeWidth": 1.2}}
 }},
{"data": {"values": [{"x": 388, "y": 1.88, "t": "(f)"}]}, "mark": {"type": "text", "fontSize": 17, "font": "Liberation Serif"},
 "encoding": {"x": {"field": "x", "type": "quantitative"}, "y": {"field": "y", "type": "quantitative"}, "text": {"field": "t"}}}
],
"resolve": {"scale": {"color": "independent", "shape": "independent", "stroke": "independent"}, "legend": {"color": "independent", "shape": "independent", "stroke": "independent"}}
}
],
"resolve": {"scale": {"color": "independent", "shape": "independent", "stroke": "independent", "angle": "independent"}, "legend": {"color": "independent", "shape": "independent", "stroke": "independent"}},
"config": {
 "font": "Liberation Serif",
 "view": {"stroke": "#000000", "strokeWidth": 1},
 "style": {"guide-title": {"fontWeight": "normal"}},
 "axis": {"labelFont": "Liberation Serif", "titleFont": "Liberation Serif", "labelFontSize": 11, "titleFontSize": 12, "titleFontWeight": "normal", "labelColor": "#000000", "titleColor": "#000000", "domainColor": "#000000", "tickColor": "#000000", "grid": false, "tickSize": -4, "labelPadding": 5, "titlePadding": 2, "labelFlush": false, "labelOverlap": false},
 "axisY": {"titlePadding": 3, "labelPadding": 8, "titleFontWeight": "normal", "labelOverlap": false},
 "axisX": {"labelPadding": 4, "titleFontWeight": "normal"},
 "legend": {"labelFont": "Liberation Serif", "labelColor": "#000000"}
}
}
